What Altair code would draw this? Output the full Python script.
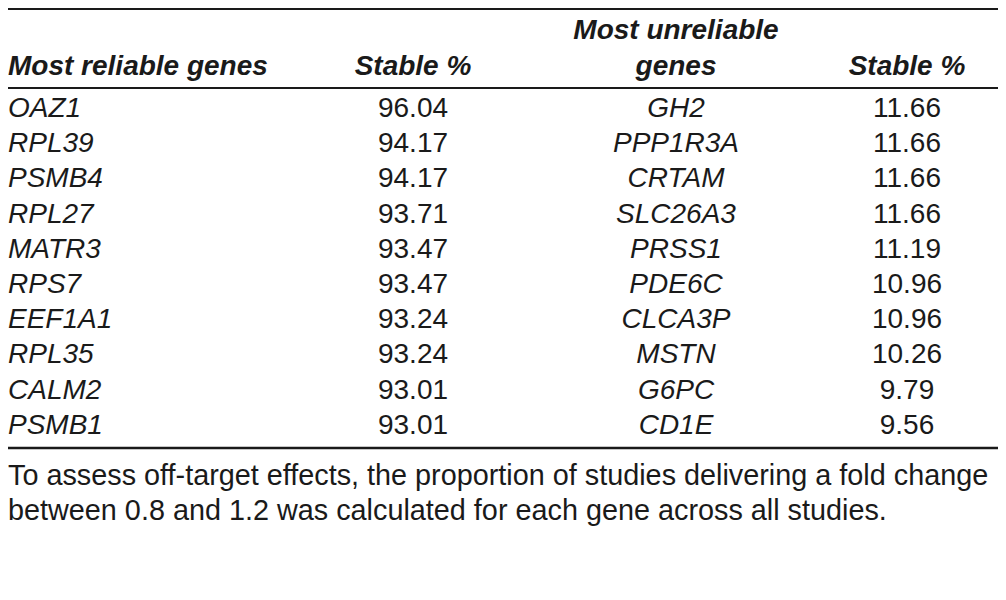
import altair as alt
import pandas as pd

reliable_genes = ["OAZ1", "RPL39", "PSMB4", "RPL27", "MATR3", "RPS7", "EEF1A1", "RPL35", "CALM2", "PSMB1"]
reliable_stable = [96.04, 94.17, 94.17, 93.71, 93.47, 93.47, 93.24, 93.24, 93.01, 93.01]
unreliable_genes = ["GH2", "PPP1R3A", "CRTAM", "SLC26A3", "PRSS1", "PDE6C", "CLCA3P", "MSTN", "G6PC", "CD1E"]
unreliable_stable = [11.66, 11.66, 11.66, 11.66, 11.19, 10.96, 10.96, 10.26, 9.79, 9.56]
header_left_gene = "Most reliable genes"
header_stable = "Stable %"
header_right_gene = ["Most unreliable", "genes"]
footnote_lines = [
    "To assess off-target effects, the proportion of studies delivering a fold change",
    "between 0.8 and 1.2 was calculated for each gene across all studies.",
]

FONT = "Liberation Sans"
FS = 28
FS_FOOT = 28.8
INK = "#1a1a1a"

rows = pd.DataFrame({
    "row": list(range(len(reliable_genes))),
    "gene1": reliable_genes,
    "val1": reliable_stable,
    "gene2": unreliable_genes,
    "val2": unreliable_stable,
})

yrow = alt.Y("row:Q", scale=alt.Scale(domain=[0, 9], range=[101, 417.8]), axis=None)

base = alt.Chart(rows)

gene1 = base.mark_text(font=FONT, fontSize=FS, fontStyle="italic", align="left",
                       baseline="middle", color=INK).encode(
    x=alt.value(0), y=yrow, text="gene1:N")
val1 = base.mark_text(font=FONT, fontSize=FS, align="center",
                      baseline="middle", color=INK).encode(
    x=alt.value(405), y=yrow, text=alt.Text("val1:Q", format=".2f"))
gene2 = base.mark_text(font=FONT, fontSize=FS, fontStyle="italic", align="center",
                       baseline="middle", color=INK).encode(
    x=alt.value(668), y=yrow, text="gene2:N")
val2 = base.mark_text(font=FONT, fontSize=FS, align="center",
                      baseline="middle", color=INK).encode(
    x=alt.value(899), y=yrow, text=alt.Text("val2:Q", format=".2f"))


def label(txt, x, y, align="center", bold=True, italic=True, size=FS):
    kw = dict(font=FONT, fontSize=size, align=align, baseline="middle", color=INK)
    if bold:
        kw["fontWeight"] = "bold"
    if italic:
        kw["fontStyle"] = "italic"
    return alt.Chart(pd.DataFrame({"t": [txt]})).mark_text(**kw).encode(
        x=alt.value(x), y=alt.value(y), text="t:N")


headers = [
    label(header_left_gene, 0, 59, align="left"),
    label(header_stable, 405, 59),
    label(header_right_gene[0], 668, 23),
    label(header_right_gene[1], 668, 59),
    label(header_stable, 899, 59),
]

foot = [
    label(footnote_lines[0], 0, 468, align="left", bold=False, italic=False, size=FS_FOOT),
    label(footnote_lines[1], 0, 503, align="left", bold=False, italic=False, size=FS_FOOT),
]


def hrule(y, w):
    return alt.Chart(pd.DataFrame({"k": [0]})).mark_rule(color=INK, strokeWidth=w).encode(
        x=alt.value(0), x2=alt.value(990), y=alt.value(y))


rules = [hrule(1, 2), hrule(80, 2), hrule(440, 2.5)]

chart = alt.layer(*rules, *headers, gene1, val1, gene2, val2, *foot).properties(
    width=990, height=584, padding=0,
    autosize=alt.AutoSizeParams(type="none"),
).configure_view(stroke=None)

chart.save("out.html", embed_options={"renderer": "svg", "actions": False})
